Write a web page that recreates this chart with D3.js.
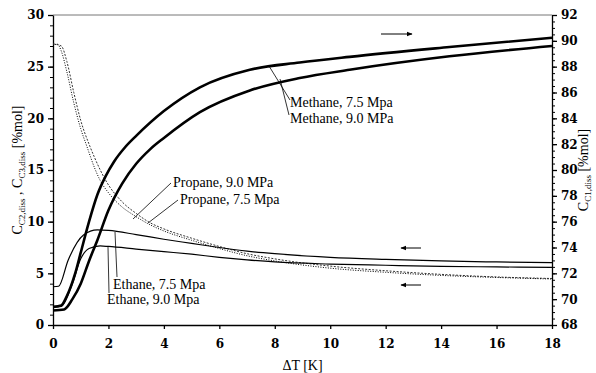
<!DOCTYPE html>
<html>
<head>
<meta charset="utf-8">
<script src="https://cdn.jsdelivr.net/npm/d3@7"></script>
<style>
  body { margin: 0; background: #fff; }
  svg { display: block; }
  .lbl { font-family: "Liberation Serif", serif; font-size: 14px; fill: #000; }
</style>
</head>
<body>
<div id="chart"></div>
<script>
// series, [dT, value]
// methane on right axis, the others on left axis
var methane75 = [[0,69.4],[0.3,69.52],[0.5,70.24],[0.8,72],[1,73.6],[1.3,76],[1.6,78.08],[1.9,79.52],[2.2,80.64],[2.6,81.76],[3,82.64],[4,84.56],[5.3,86.4],[7.1,87.76],[8.9,88.32],[10.7,88.76],[14.3,89.52],[18,90.24]];
var methane90 = [[0,69.12],[0.4,69.2],[0.7,70],[1,71.2],[1.3,72.96],[1.6,74.56],[2,76.88],[2.5,78.96],[3,80.48],[3.5,81.6],[4,82.48],[5.3,84.48],[7.1,86.16],[8.9,87.12],[10.7,87.76],[14.3,88.8],[18,89.6]];
var ethane75 = [[0,3.7],[0.2,3.75],[0.55,6.3],[1.1,8.7],[1.6,9.2],[2,9.15],[3,8.75],[4,8.3],[5,7.9],[6,7.5],[7,7.15],[8,6.9],[10,6.55],[12,6.35],[14,6.2],[16,6.1],[18,6.03]];
var ethane90 = [[0,1.7],[0.3,1.8],[0.7,4],[1,6.4],[1.3,7.4],[1.7,7.65],[2,7.6],[3,7.35],[4,7.1],[5,6.85],[6,6.55],[7,6.3],[8,6.1],[10,5.9],[12,5.78],[14,5.68],[16,5.62],[18,5.58]];
var propane90 = [[0,27],[0.15,27.2],[0.3,26.5],[0.5,24.5],[0.75,21.5],[1,19],[1.22,17.3],[1.5,15.2],[1.7,14],[2,12.8],[2.5,11.4],[2.9,10.65],[3.5,9.7],[4,9.1],[5,8.2],[6,7.4],[7,6.7],[8,6.2],[10,5.5],[12,5.1],[14,4.8],[16,4.6],[18,4.45]];
var propane75 = [[0,27.2],[0.3,27],[0.5,25.5],[0.75,22.5],[1,19.8],[1.33,17.3],[1.5,16.2],[1.9,14],[2.5,11.9],[3,10.8],[3.5,9.9],[4,9.3],[5,8.4],[6,7.6],[7,6.9],[8,6.4],[10,5.7],[12,5.25],[14,4.9],[16,4.65],[18,4.5]];

var xTicks = [0,2,4,6,8,10,12,14,16,18];
var leftTicks = [0,5,10,15,20,25,30];
var rightTicks = [68,70,72,74,76,78,80,82,84,86,88,90,92];

var width = 596, height = 373;
var margin = {top: 15, right: 44, bottom: 48, left: 53};

var svg = d3.select("#chart").append("svg")
    .attr("width", width)
    .attr("height", height);

var x = d3.scaleLinear().domain([0, 18]).range([margin.left, width - margin.right]);
var yL = d3.scaleLinear().domain([0, 30]).range([height - margin.bottom, margin.top]);
var yR = d3.scaleLinear().domain([68, 92]).range([height - margin.bottom, margin.top]);

//top border
svg.append("line")
    .attr("x1", x(0)).attr("x2", x(18))
    .attr("y1", yL(30)).attr("y2", yL(30))
    .attr("stroke", "#777").attr("stroke-width", 1);

//minor ticks first
svg.append("g")
    .attr("transform", "translate(" + x(0) + ",0)")
    .call(d3.axisLeft(yL).tickValues(d3.range(0, 31, 1)).tickSize(3).tickFormat(""))
    .call(function(g) { g.select(".domain").remove(); });
svg.append("g")
    .attr("transform", "translate(" + x(18) + ",0)")
    .call(d3.axisRight(yR).tickValues(d3.range(68, 92.01, 0.5)).tickSize(3).tickFormat(""))
    .call(function(g) { g.select(".domain").remove(); });

var gx = svg.append("g")
    .attr("transform", "translate(0," + yL(0) + ")")
    .call(d3.axisBottom(x).tickValues(xTicks).tickSize(4).tickSizeOuter(0).tickPadding(10));
var gl = svg.append("g")
    .attr("transform", "translate(" + x(0) + ",0)")
    .call(d3.axisLeft(yL).tickValues(leftTicks).tickSize(5).tickSizeOuter(0).tickPadding(4));
var gr = svg.append("g")
    .attr("transform", "translate(" + x(18) + ",0)")
    .call(d3.axisRight(yR).tickValues(rightTicks).tickSize(5).tickSizeOuter(0).tickPadding(4));

[gx, gl, gr].forEach(function(g) {
    g.selectAll("path, line").attr("stroke", "#000").attr("stroke-width", 1.3);
    g.attr("font-family", "DejaVu Serif").attr("font-size", 12);
    g.selectAll("text")
        .attr("font-weight", "bold")
        .attr("fill", "#000");
});

var lineL = d3.line().x(function(d) { return x(d[0]); }).y(function(d) { return yL(d[1]); }).curve(d3.curveMonotoneX);
var lineR = d3.line().x(function(d) { return x(d[0]); }).y(function(d) { return yR(d[1]); }).curve(d3.curveMonotoneX);

var plot = svg.append("g");
plot.append("path").datum(propane75).attr("d", lineL)
    .attr("fill", "none").attr("stroke", "#333").attr("stroke-width", 1).attr("stroke-dasharray", "2,1.5");
plot.append("path").datum(propane90).attr("d", lineL)
    .attr("fill", "none").attr("stroke", "#000").attr("stroke-width", 1).attr("stroke-dasharray", "1,1.5");
plot.append("path").datum(ethane75).attr("d", lineL)
    .attr("fill", "none").attr("stroke", "#000").attr("stroke-width", 1.2);
plot.append("path").datum(ethane90).attr("d", lineL)
    .attr("fill", "none").attr("stroke", "#000").attr("stroke-width", 1.2);
plot.append("path").datum(methane75).attr("d", lineR)
    .attr("fill", "none").attr("stroke", "#000").attr("stroke-width", 2.6);
plot.append("path").datum(methane90).attr("d", lineR)
    .attr("fill", "none").attr("stroke", "#000").attr("stroke-width", 2.6);

//annotation labels with pointer lines
var notes = [
    {text: "Methane, 7.5 Mpa", tx: 290, ty: 107, from: [290, 100], to: [269, 66]},
    {text: "Methane, 9.0 MPa", tx: 290, ty: 123, from: [289, 115], to: [280, 79]},
    {text: "Propane, 9.0 MPa", tx: 173, ty: 187, from: [171, 183], to: [133, 219]},
    {text: "Propane, 7.5 Mpa", tx: 180, ty: 204, from: [178, 200], to: [148, 223]},
    {text: "Ethane, 7.5 Mpa", tx: 113, ty: 289, from: [117, 277], to: [115, 232]},
    {text: "Ethane, 9.0 Mpa", tx: 107, ty: 304, from: [109, 293], to: [108, 247]}
];
notes.forEach(function(n) {
    svg.append("line")
        .attr("x1", n.from[0]).attr("y1", n.from[1])
        .attr("x2", n.to[0]).attr("y2", n.to[1])
        .attr("stroke", "#000").attr("stroke-width", 0.8);
    svg.append("text").attr("class", "lbl")
        .attr("x", n.tx).attr("y", n.ty).text(n.text);
});

//arrows
svg.append("defs").append("marker")
    .attr("id", "head").attr("viewBox", "0 0 10 10")
    .attr("refX", 9).attr("refY", 5)
    .attr("markerWidth", 6).attr("markerHeight", 6)
    .attr("orient", "auto")
    .append("path").attr("d", "M0,1L10,5L0,9Z").attr("fill", "#000");
var arrows = [[381, 34, 412, 34], [421, 248, 401, 248], [421, 285, 401, 285]];
arrows.forEach(function(a) {
    svg.append("line")
        .attr("x1", a[0]).attr("y1", a[1]).attr("x2", a[2]).attr("y2", a[3])
        .attr("stroke", "#000").attr("stroke-width", 1)
        .attr("marker-end", "url(#head)");
});

//axis titles
svg.append("text").attr("class", "lbl")
    .attr("x", x(9)).attr("y", 370)
    .attr("text-anchor", "middle")
    .text("ΔT [K]");

var tl = svg.append("text").attr("class", "lbl")
    .attr("transform", "translate(22," + yL(15) + ") rotate(-90)")
    .attr("text-anchor", "middle");
tl.append("tspan").text("C");
tl.append("tspan").attr("font-size", "9px").attr("dy", 3).text("C2,diss");
tl.append("tspan").attr("dy", -3).text(" , C");
tl.append("tspan").attr("font-size", "9px").attr("dy", 3).text("C3,diss");
tl.append("tspan").attr("dy", -3).text(" [%mol]");

var tr = svg.append("text").attr("class", "lbl")
    .attr("transform", "translate(588," + yL(15) + ") rotate(-90)")
    .attr("text-anchor", "middle");
tr.append("tspan").text("C");
tr.append("tspan").attr("font-size", "9px").attr("dy", 3).text("C1,diss");
tr.append("tspan").attr("dy", -3).text(" [%mol]");
</script>
</body>
</html>
